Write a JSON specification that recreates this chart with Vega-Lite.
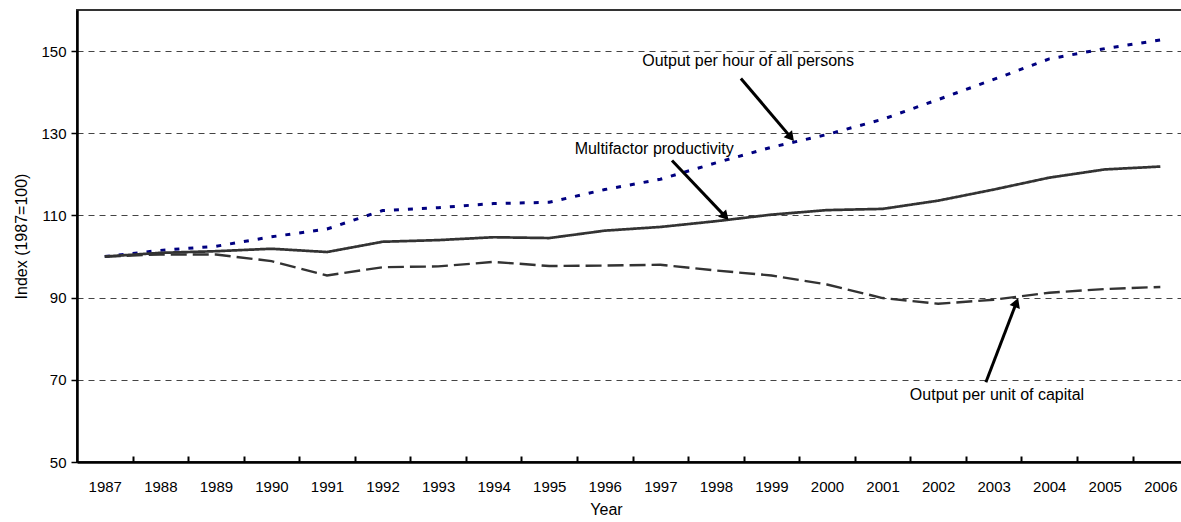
{
  "$schema": "https://vega.github.io/schema/vega-lite/v6.json",
  "width": 1105,
  "height": 452,
  "autosize": {"type": "none"},
  "padding": {"left": 77, "top": 10, "right": 0, "bottom": 60},
  "config": {
    "font": "Liberation Sans",
    "view": {"stroke": "#333333", "strokeWidth": 2},
    "axis": {
      "labelFont": "Liberation Sans",
      "titleFont": "Liberation Sans",
      "labelColor": "#000000",
      "titleColor": "#000000",
      "labelFontSize": 15,
      "titleFontSize": 15,
      "titleFontWeight": "normal"
    }
  },
  "datasets": {
    "series": [
      {"year": 1987, "series": "Output per hour of all persons", "value": 100.0},
      {"year": 1988, "series": "Output per hour of all persons", "value": 101.5},
      {"year": 1989, "series": "Output per hour of all persons", "value": 102.5},
      {"year": 1990, "series": "Output per hour of all persons", "value": 104.8},
      {"year": 1991, "series": "Output per hour of all persons", "value": 106.7},
      {"year": 1992, "series": "Output per hour of all persons", "value": 111.2},
      {"year": 1993, "series": "Output per hour of all persons", "value": 111.9},
      {"year": 1994, "series": "Output per hour of all persons", "value": 112.9},
      {"year": 1995, "series": "Output per hour of all persons", "value": 113.2},
      {"year": 1996, "series": "Output per hour of all persons", "value": 116.3},
      {"year": 1997, "series": "Output per hour of all persons", "value": 118.8},
      {"year": 1998, "series": "Output per hour of all persons", "value": 122.8},
      {"year": 1999, "series": "Output per hour of all persons", "value": 126.6},
      {"year": 2000, "series": "Output per hour of all persons", "value": 129.7},
      {"year": 2001, "series": "Output per hour of all persons", "value": 133.4},
      {"year": 2002, "series": "Output per hour of all persons", "value": 138.2},
      {"year": 2003, "series": "Output per hour of all persons", "value": 143.1},
      {"year": 2004, "series": "Output per hour of all persons", "value": 148.1},
      {"year": 2005, "series": "Output per hour of all persons", "value": 150.6},
      {"year": 2006, "series": "Output per hour of all persons", "value": 152.7},
      {"year": 1987, "series": "Multifactor productivity", "value": 100.0},
      {"year": 1988, "series": "Multifactor productivity", "value": 100.9},
      {"year": 1989, "series": "Multifactor productivity", "value": 101.3},
      {"year": 1990, "series": "Multifactor productivity", "value": 101.9},
      {"year": 1991, "series": "Multifactor productivity", "value": 101.1},
      {"year": 1992, "series": "Multifactor productivity", "value": 103.6},
      {"year": 1993, "series": "Multifactor productivity", "value": 104.0},
      {"year": 1994, "series": "Multifactor productivity", "value": 104.7},
      {"year": 1995, "series": "Multifactor productivity", "value": 104.5},
      {"year": 1996, "series": "Multifactor productivity", "value": 106.3},
      {"year": 1997, "series": "Multifactor productivity", "value": 107.2},
      {"year": 1998, "series": "Multifactor productivity", "value": 108.6},
      {"year": 1999, "series": "Multifactor productivity", "value": 110.2},
      {"year": 2000, "series": "Multifactor productivity", "value": 111.3},
      {"year": 2001, "series": "Multifactor productivity", "value": 111.6},
      {"year": 2002, "series": "Multifactor productivity", "value": 113.6},
      {"year": 2003, "series": "Multifactor productivity", "value": 116.3},
      {"year": 2004, "series": "Multifactor productivity", "value": 119.2},
      {"year": 2005, "series": "Multifactor productivity", "value": 121.2},
      {"year": 2006, "series": "Multifactor productivity", "value": 121.9},
      {"year": 1987, "series": "Output per unit of capital", "value": 100.0},
      {"year": 1988, "series": "Output per unit of capital", "value": 100.5},
      {"year": 1989, "series": "Output per unit of capital", "value": 100.5},
      {"year": 1990, "series": "Output per unit of capital", "value": 98.9},
      {"year": 1991, "series": "Output per unit of capital", "value": 95.4},
      {"year": 1992, "series": "Output per unit of capital", "value": 97.4},
      {"year": 1993, "series": "Output per unit of capital", "value": 97.6},
      {"year": 1994, "series": "Output per unit of capital", "value": 98.7},
      {"year": 1995, "series": "Output per unit of capital", "value": 97.7},
      {"year": 1996, "series": "Output per unit of capital", "value": 97.8},
      {"year": 1997, "series": "Output per unit of capital", "value": 98.0},
      {"year": 1998, "series": "Output per unit of capital", "value": 96.6},
      {"year": 1999, "series": "Output per unit of capital", "value": 95.4},
      {"year": 2000, "series": "Output per unit of capital", "value": 93.2},
      {"year": 2001, "series": "Output per unit of capital", "value": 89.9},
      {"year": 2002, "series": "Output per unit of capital", "value": 88.5},
      {"year": 2003, "series": "Output per unit of capital", "value": 89.5},
      {"year": 2004, "series": "Output per unit of capital", "value": 91.2},
      {"year": 2005, "series": "Output per unit of capital", "value": 92.1},
      {"year": 2006, "series": "Output per unit of capital", "value": 92.6}
    ],
    "notes": [
      {"id": "hour", "label": "Output per hour of all persons", "tx": 1998.58, "ty": 147.5, "x1": 1998.45, "y1": 143.35, "x2": 1999.35, "y2": 129.0},
      {"id": "mfp", "label": "Multifactor productivity", "tx": 1996.89, "ty": 126.2, "x1": 1997.21, "y1": 123.38, "x2": 1998.17, "y2": 109.72},
      {"id": "cap", "label": "Output per unit of capital", "tx": 2003.06, "ty": 66.4, "x1": 2002.86, "y1": 69.39, "x2": 2003.41, "y2": 88.8}
    ]
  },
  "layer": [
    {
      "data": {"name": "series"},
      "mark": {"type": "line", "strokeCap": "butt"},
      "encoding": {
        "x": {
          "field": "year",
          "type": "quantitative",
          "scale": {"domain": [1986.5, 2006.39], "nice": false, "zero": false},
          "axis": {
            "values": [1987, 1988, 1989, 1990, 1991, 1992, 1993, 1994, 1995, 1996, 1997, 1998, 1999, 2000, 2001, 2002, 2003, 2004, 2005, 2006],
            "format": "d",
            "grid": false,
            "tickOffset": 27.78,
            "labelOffset": -27.78,
            "tickSize": -6,
            "tickWidth": 2,
            "tickColor": "#000000",
            "domainColor": "#000000",
            "domainWidth": 2.5,
            "labelPadding": 23,
            "labelOverlap": false,
            "labelFlush": false,
            "title": "Year",
            "titleFontSize": 16,
            "titleX": 529,
            "titleY": 47,
            "titleBaseline": "middle"
          }
        },
        "y": {
          "field": "value",
          "type": "quantitative",
          "scale": {"domain": [50, 160], "nice": false, "zero": false},
          "axis": {
            "values": [50, 70, 90, 110, 130, 150],
            "grid": true,
            "gridDash": [6, 5],
            "gridColor": "#444444",
            "gridWidth": 1,
            "domainColor": "#000000",
            "domainWidth": 2.5,
            "tickColor": "#000000",
            "tickSize": 6,
            "tickWidth": 1.5,
            "labelPadding": 5,
            "title": "Index (1987=100)",
            "titleFontSize": 16,
            "titlePadding": 11
          }
        },
        "color": {
          "field": "series",
          "type": "nominal",
          "scale": {
            "domain": ["Output per hour of all persons", "Multifactor productivity", "Output per unit of capital"],
            "range": ["#000080", "#333333", "#333333"]
          },
          "legend": null
        },
        "strokeDash": {
          "field": "series",
          "type": "nominal",
          "scale": {
            "domain": ["Output per hour of all persons", "Multifactor productivity", "Output per unit of capital"],
            "range": [[5, 9], [1, 0], [16, 6]]
          },
          "legend": null
        },
        "strokeWidth": {
          "field": "series",
          "type": "ordinal",
          "scale": {
            "domain": ["Output per hour of all persons", "Multifactor productivity", "Output per unit of capital"],
            "range": [3, 2.4, 2.6]
          },
          "legend": null
        }
      }
    },
    {
      "data": {"name": "notes"},
      "mark": {"type": "rule", "color": "#000000", "strokeWidth": 3},
      "encoding": {
        "x": {"field": "x1", "type": "quantitative"},
        "y": {"field": "y1", "type": "quantitative"},
        "x2": {"field": "x2"},
        "y2": {"field": "y2"}
      }
    },
    {
      "data": {"name": "notes"},
      "transform": [{"filter": "datum.id == 'hour'"}],
      "mark": {"type": "point", "shape": "triangle-up", "filled": true, "color": "#000000", "opacity": 1, "size": 120, "angle": 140},
      "encoding": {
        "x": {"field": "x2", "type": "quantitative"},
        "y": {"field": "y2", "type": "quantitative"}
      }
    },
    {
      "data": {"name": "notes"},
      "transform": [{"filter": "datum.id == 'mfp'"}],
      "mark": {"type": "point", "shape": "triangle-up", "filled": true, "color": "#000000", "opacity": 1, "size": 120, "angle": 137},
      "encoding": {
        "x": {"field": "x2", "type": "quantitative"},
        "y": {"field": "y2", "type": "quantitative"}
      }
    },
    {
      "data": {"name": "notes"},
      "transform": [{"filter": "datum.id == 'cap'"}],
      "mark": {"type": "point", "shape": "triangle-up", "filled": true, "color": "#000000", "opacity": 1, "size": 120, "angle": 21},
      "encoding": {
        "x": {"field": "x2", "type": "quantitative"},
        "y": {"field": "y2", "type": "quantitative"}
      }
    },
    {
      "data": {"name": "notes"},
      "mark": {"type": "text", "font": "Liberation Sans", "fontSize": 16, "color": "#000000", "align": "center", "baseline": "middle"},
      "encoding": {
        "x": {"field": "tx", "type": "quantitative"},
        "y": {"field": "ty", "type": "quantitative"},
        "text": {"field": "label"}
      }
    }
  ]
}
